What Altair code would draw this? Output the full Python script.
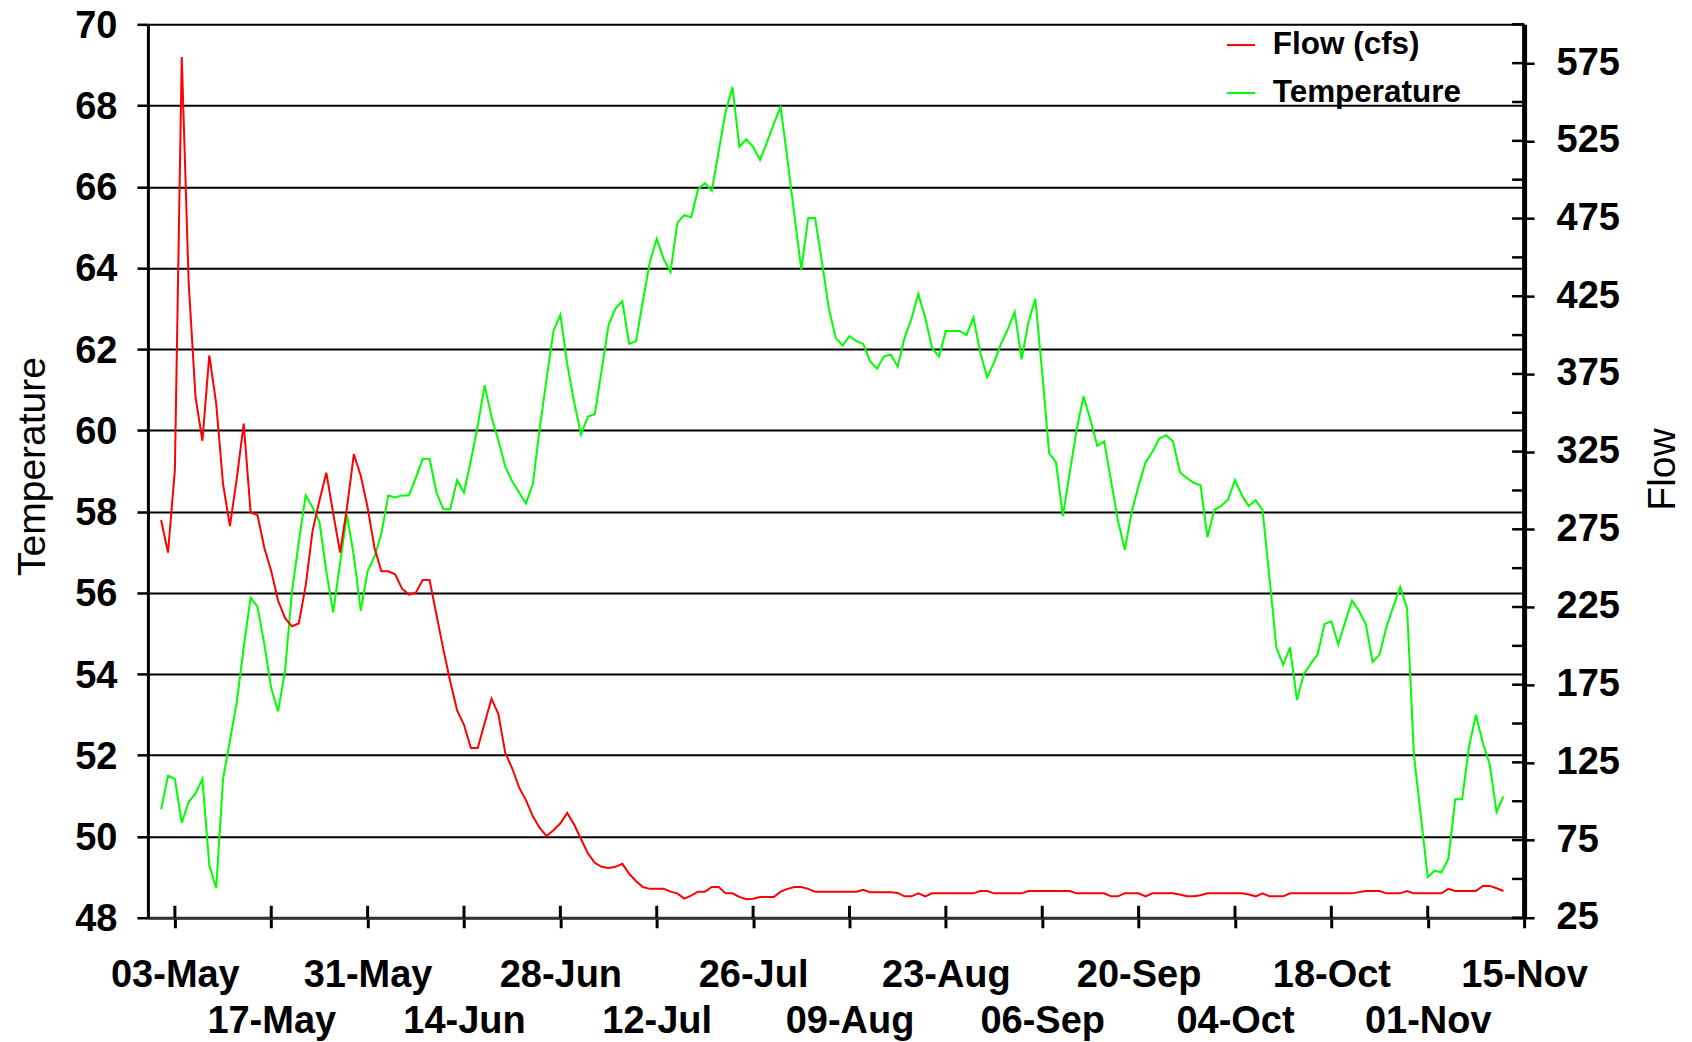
import altair as alt
import pandas as pd
from datetime import datetime, timedelta, timezone

# ---------------- data (daily values, first value on 01-May) ----------------
first_day = "2001-05-01"

temperature = [
    50.67, 51.5, 51.42, 50.34, 50.85, 51.06, 51.42, 49.29, 48.73, 51.42,
    52.36, 53.32, 54.66, 55.88, 55.66, 54.73, 53.65, 53.08, 54.08, 56.02,
    57.25, 58.4, 58.11, 57.75, 56.53, 55.52, 56.74, 57.92, 56.91, 55.56,
    56.53, 56.89, 57.46, 58.4, 58.35, 58.4, 58.4, 58.83, 59.3, 59.3,
    58.47, 58.06, 58.06, 58.78, 58.47, 59.26, 60.12, 61.11, 60.33, 59.75,
    59.11, 58.75, 58.47, 58.2, 58.68, 60.05, 61.27, 62.45, 62.85, 61.63,
    60.7, 59.9, 60.34, 60.4, 61.49, 62.6, 63.0, 63.18, 62.13, 62.2,
    63.2, 64.15, 64.72, 64.22, 63.9, 65.11, 65.3, 65.25, 65.94, 66.09,
    65.9, 66.88, 67.84, 68.46, 66.98, 67.17, 66.98, 66.66, 67.09, 67.55,
    67.96, 66.66, 65.3, 63.96, 65.23, 65.23, 64.15, 63.0, 62.28, 62.09,
    62.32, 62.2, 62.13, 61.7, 61.52, 61.82, 61.87, 61.57, 62.28, 62.75,
    63.36, 62.78, 62.03, 61.82, 62.45, 62.45, 62.45, 62.35, 62.78, 61.92,
    61.31, 61.67, 62.13, 62.49, 62.92, 61.75, 62.67, 63.24, 61.41, 59.44,
    59.21, 57.89, 58.97, 60.02, 60.84, 60.26, 59.62, 59.73, 58.75, 57.78,
    57.06, 58.0, 58.64, 59.21, 59.47, 59.8, 59.88, 59.73, 58.97, 58.83,
    58.71, 58.65, 57.37, 58.04, 58.14, 58.3, 58.78, 58.4, 58.14, 58.28,
    58.04, 56.4, 54.66, 54.23, 54.66, 53.36, 54.0, 54.25, 54.48, 55.23,
    55.3, 54.73, 55.28, 55.81, 55.56, 55.23, 54.3, 54.48, 55.16, 55.66,
    56.14, 55.62, 52.0, 50.5, 49.0, 49.16, 49.12, 49.45, 50.92, 50.92,
    52.21, 53.0, 52.31, 51.78, 50.6, 50.99,
]

flow = [
    281, 260, 313, 579, 434, 360, 332, 387, 356, 304,
    277, 308, 343, 286, 284, 263, 248, 229, 218, 212.6,
    214.4, 238.7, 274, 293.5, 311.4, 285.3, 260, 289, 323.3, 309.5,
    289, 263, 248, 248, 246, 236.8, 233, 234.2, 242.4, 242.4,
    220, 197.7, 177, 158.5, 149.2, 134.3, 134.3, 150.3, 166, 156,
    131, 121.2, 108.9, 100.7, 90.3, 82.8, 77.6, 81.3, 85.8, 92.5,
    85, 75.7, 66.4, 60.4, 57.8, 57.1, 57.8, 59.7, 53.3, 48.5,
    44.8, 43.6, 43.6, 43.6, 41.8, 40.7, 37.3, 39.2, 41.8, 41.8,
    44.8, 44.8, 40.7, 40.7, 38.4, 36.9, 37.3, 38.4, 38.4, 38.4,
    41.8, 43.6, 44.8, 44.8, 43.6, 41.8, 41.8, 41.8, 41.8, 41.8,
    41.8, 41.8, 43.0, 41.5, 41.5, 41.5, 41.5, 41.0, 38.8, 38.8,
    40.7, 38.8, 40.7, 40.7, 40.7, 40.7, 40.7, 40.7, 40.7, 42.2,
    42.2, 40.7, 40.7, 40.7, 40.7, 40.7, 42.2, 42.2, 42.2, 42.2,
    42.2, 42.2, 42.2, 40.7, 40.7, 40.7, 40.7, 40.7, 38.8, 38.8,
    40.7, 40.7, 40.7, 38.8, 40.7, 40.7, 40.7, 40.7, 40.0, 38.8,
    38.8, 39.5, 40.7, 40.7, 40.7, 40.7, 40.7, 40.7, 40.0, 38.8,
    40.7, 38.8, 38.8, 38.8, 40.7, 40.7, 40.7, 40.7, 40.7, 40.7,
    40.7, 40.7, 40.7, 40.7, 41.5, 42.2, 42.2, 42.2, 40.7, 40.7,
    40.7, 42.2, 40.7, 40.7, 40.7, 40.7, 40.7, 43.6, 42.2, 42.2,
    42.2, 42.2, 45.5, 45.5, 44.0, 42.2,
]

x_labels_row1 = ["03-May", "31-May", "28-Jun", "26-Jul", "23-Aug",
                 "20-Sep", "18-Oct", "15-Nov"]
x_labels_row2 = ["17-May", "14-Jun", "12-Jul", "09-Aug", "06-Sep",
                 "04-Oct", "01-Nov"]
year = 2001
x_axis_start = "2001-04-29T02:00:00"
x_axis_end = "2001-11-15T00:00:00"

temp_ticks = [48, 50, 52, 54, 56, 58, 60, 62, 64, 66, 68, 70]
flow_range = [25, 600]
temp_range = [48, 70]

series_names = ["Flow (cfs)", "Temperature"]
series_colors = ["#ff0000", "#00ff00"]

# ---------------- helpers ----------------
def utc_ms(dt):
    return int(dt.replace(tzinfo=timezone.utc).timestamp() * 1000)

t0 = datetime.strptime(first_day, "%Y-%m-%d")
n = min(len(temperature), len(flow))
dates = [(t0 + timedelta(days=i)).strftime("%Y-%m-%dT%H:%M:%SZ") for i in range(n)]
df = pd.DataFrame({"date": dates, "temp": temperature[:n], "flow": flow[:n]})

tick_dates = sorted(datetime.strptime(f"{s}-{year}", "%d-%b-%Y")
                    for s in x_labels_row1 + x_labels_row2)
tick_ms = [utc_ms(d) for d in tick_dates]
xticks_df = pd.DataFrame({"date": [d.strftime("%Y-%m-%dT%H:%M:%SZ") for d in tick_dates]})

flow_tick_values = list(range(flow_range[0], flow_range[1] + 1, 25))
flow_ticks_df = pd.DataFrame({"flow": flow_tick_values})

W, H = 1377, 894
FONT = "Liberation Sans"

x_domain = [utc_ms(datetime.fromisoformat(x_axis_start)),
            utc_ms(datetime.fromisoformat(x_axis_end))]
row2_js = "[" + ",".join(f"'{s}'" for s in x_labels_row2) + "]"

x_scale = alt.Scale(type="utc", domain=x_domain)
x_axis = alt.Axis(
    values=tick_ms, format="%d-%b",
    labelExpr=f"indexof({row2_js}, datum.label) >= 0 ? ['', datum.label] : datum.label",
    labelFont=FONT, labelFontSize=38, labelFontWeight="bold", labelColor="black",
    labelPadding=28.5, labelLineHeight=46.5, labelOverlap=False, labelFlush=False,
    labelBound=False, labelAlign="center", labelBaseline="top",
    tickSize=10, tickWidth=3, tickColor="black",
    domainColor="#333333", domainWidth=3, grid=False, title=None,
)

color_scale = alt.Scale(domain=series_names, range=series_colors)
legend = alt.Legend(
    title=None, orient="none", legendX=1078, legendY=5, direction="vertical",
    symbolType="stroke", symbolSize=784, symbolStrokeWidth=2,
    labelFont=FONT, labelFontSize=31.5, labelFontWeight="bold", labelColor="black",
    labelOffset=16, rowPadding=15, padding=0, labelLimit=400,
)

temp_line = alt.Chart(df).transform_calculate(
    series=f"'{series_names[1]}'"
).mark_line(strokeWidth=2).encode(
    x=alt.X("date:T", scale=x_scale, axis=x_axis),
    y=alt.Y("temp:Q",
            scale=alt.Scale(domain=temp_range, nice=False, zero=False),
            axis=alt.Axis(
                orient="left", values=temp_ticks,
                labelFont=FONT, labelFontSize=38, labelFontWeight="bold",
                labelColor="black", labelPadding=20, labelOffset=2,
                tickSize=11, tickWidth=2.5, tickColor="black",
                grid=True, gridColor="black", gridWidth=2,
                domainColor="black", domainWidth=3,
                title="Temperature", titleFont=FONT, titleFontSize=39,
                titleFontWeight="normal", titleColor="black",
                titleAngle=270, titleX=-103, titleY=442,
                titleAlign="center", titleBaseline="alphabetic",
            )),
    color=alt.Color("series:N", scale=color_scale, legend=legend),
)

flow_line = alt.Chart(df).transform_calculate(
    series=f"'{series_names[0]}'"
).mark_line(strokeWidth=2).encode(
    x=alt.X("date:T", scale=x_scale, axis=x_axis),
    y=alt.Y("flow:Q",
            scale=alt.Scale(domain=flow_range, nice=False, zero=False),
            axis=alt.Axis(
                orient="right", values=flow_tick_values,
                labelExpr=f"(datum.value - {flow_range[0]}) % 50 == 0 ? datum.label : ''",
                labelFont=FONT, labelFontSize=38, labelFontWeight="bold",
                labelColor="black", labelPadding=22,
                tickSize=10, tickWidth=2.5, tickColor="black",
                grid=False, domainColor="black", domainWidth=5,
                title="Flow", titleFont=FONT, titleFontSize=39,
                titleFontWeight="normal", titleColor="black",
                titleAngle=270, titleX=150, titleY=445,
                titleAlign="center", titleBaseline="alphabetic",
            )),
    color=alt.Color("series:N", scale=color_scale, legend=legend),
)

flow_inner_ticks = alt.Chart(flow_ticks_df).mark_rule(color="black", strokeWidth=2.5).encode(
    y=alt.Y("flow:Q"),
    x=alt.value(W - 12),
    x2=alt.value(W),
)

x_inner_ticks = alt.Chart(xticks_df).mark_rule(color="black", strokeWidth=3).encode(
    x=alt.X("date:T"),
    y=alt.value(H - 12),
    y2=alt.value(H),
)

chart = alt.layer(
    temp_line,
    alt.layer(flow_line, flow_inner_ticks),
    x_inner_ticks,
).resolve_scale(y="independent").properties(
    width=W, height=H,
    autosize=alt.AutoSizeParams(type="none"),
    padding={"left": 140, "top": 16, "right": 160, "bottom": 124},
).configure_view(strokeWidth=0).configure(font=FONT)

chart.save("out.html", embed_options={"renderer": "svg", "actions": False})
